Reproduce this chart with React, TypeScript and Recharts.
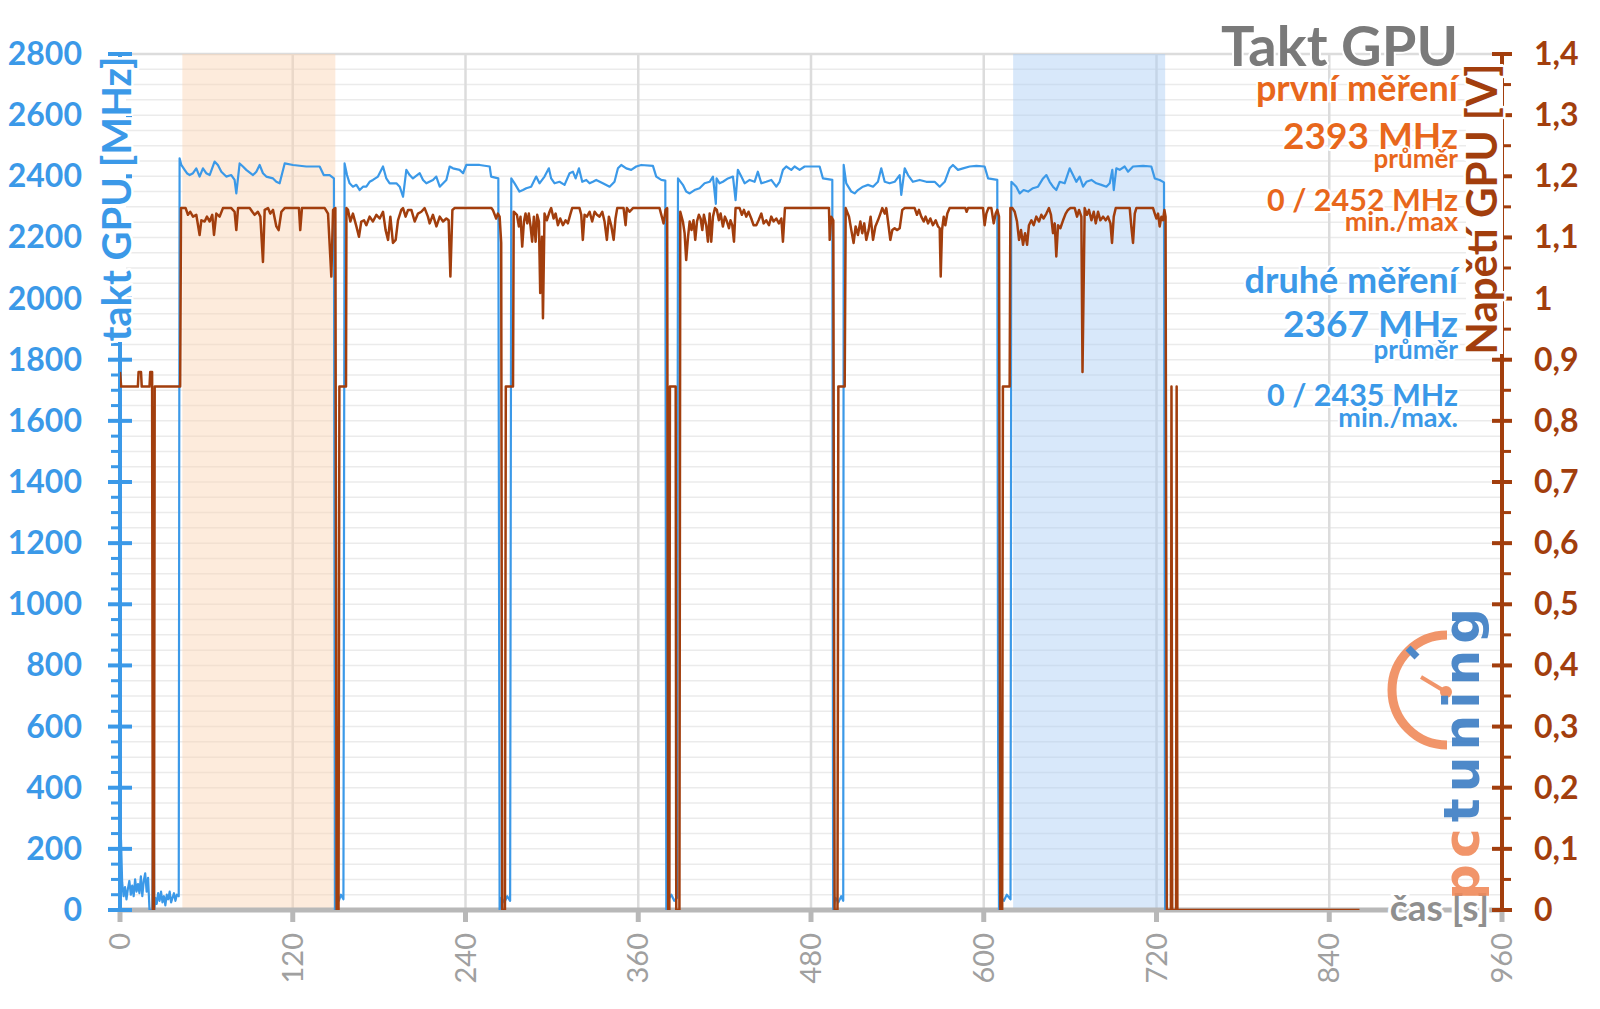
import React from 'react';
import { LineChart, Line, XAxis, YAxis, CartesianGrid, ReferenceArea } from 'recharts';

const BLUE = '#3b99e8';
const BROWN = '#a23e0d';
const ORANGE = '#e8671c';
const AXIS_GRAY = '#b8b8b8';
const LABEL_GRAY = '#a0a0a0';
const FONT = 'Lato, "Open Sans", sans-serif';

// ticks
const timeTicks = [0, 120, 240, 360, 480, 600, 720, 840, 960];
const timeGridTicks = [0, 15, 30, 45, 60, 75, 90, 105, 120, 135, 150, 165, 180, 195, 210, 225, 240, 255, 270, 285, 300, 315, 330, 345, 360, 375, 390, 405, 420, 435, 450, 465, 480, 495, 510, 525, 540, 555, 570, 585, 600, 615, 630, 645, 660, 675, 690, 705, 720, 735, 750, 765, 780, 795, 810, 825, 840, 855, 870, 885, 900, 915, 930, 945, 960];
const mhzTicks = [0, 50, 100, 150, 200, 250, 300, 350, 400, 450, 500, 550, 600, 650, 700, 750, 800, 850, 900, 950, 1000, 1050, 1100, 1150, 1200, 1250, 1300, 1350, 1400, 1450, 1500, 1550, 1600, 1650, 1700, 1750, 1800, 1850, 1900, 1950, 2000, 2050, 2100, 2150, 2200, 2250, 2300, 2350, 2400, 2450, 2500, 2550, 2600, 2650, 2700, 2750, 2800];
const mhzMajorTicks = [0, 200, 400, 600, 800, 1000, 1200, 1400, 1600, 1800, 2000, 2200, 2400, 2600, 2800];
const voltTicks = [0, 0.05, 0.1, 0.15, 0.2, 0.25, 0.3, 0.35, 0.4, 0.45, 0.5, 0.55, 0.6, 0.65, 0.7, 0.75, 0.8, 0.85, 0.9, 0.95, 1, 1.05, 1.1, 1.15, 1.2, 1.25, 1.3, 1.35, 1.4];

// shaded windows (s)
const firstWindow = [43.3, 149.6];
const secondWindow = [620.4, 726];

// GPU clock [s, MHz]
const clockIdle = [[0, 40], [0.7, 230], [1.5, 90], [2.5, 45], [3.5, 75], [4.5, 35], [5.5, 70], [6.5, 95], [7.5, 50], [8.5, 80], [9.5, 45], [10.5, 100], [11.5, 60], [12.5, 85], [13.5, 55], [14.5, 110], [15.5, 45], [16.5, 95], [17.5, 120], [18.5, 60], [19.5, 105], [20.5, 0], [22.5, 0], [23.3, 530], [23.8, 0], [24.5, 40], [25.5, 20], [26.5, 55], [27.5, 30], [28.5, 60], [29.5, 25], [30.5, 45], [31.5, 15], [32.5, 50], [33.5, 35], [34.5, 60], [35.5, 25], [36.5, 40], [37.5, 55], [38.5, 30], [39.5, 50], [40.8, 45]];
const clockRun1 = [[41.4, 2459], [42.6, 2437], [44.9, 2421], [46.5, 2410], [48.4, 2404], [50.7, 2410], [53.0, 2426], [55.3, 2399], [57.6, 2426], [59.9, 2410], [62.3, 2404], [65.7, 2448], [68.0, 2437], [70.4, 2415], [73.8, 2399], [77.3, 2404], [79.6, 2388], [80.8, 2344], [83.1, 2442], [85.4, 2432], [87.7, 2421], [92.4, 2404], [94.7, 2415], [97.0, 2437], [99.3, 2410], [101.6, 2399], [106.3, 2393], [108.6, 2382], [110.9, 2377], [114.4, 2442], [120.2, 2437], [129.4, 2432], [138.7, 2432], [141.5, 2404], [145.6, 2404], [148.6, 2393], [149.3, 0], [150.5, 45], [152, 30], [153.5, 50], [155.2, 35]];
const clockRun2 = [[156.0, 2442], [157.7, 2404], [159.5, 2377], [161.8, 2366], [164.2, 2372], [166.5, 2355], [168.8, 2366], [171.1, 2366], [173.4, 2382], [175.7, 2388], [179.2, 2399], [182.7, 2432], [185.0, 2393], [187.3, 2377], [192.0, 2377], [194.3, 2366], [196.6, 2333], [198.9, 2421], [201.2, 2404], [203.5, 2393], [208.2, 2410], [210.5, 2388], [212.8, 2377], [217.4, 2388], [219.7, 2399], [222.1, 2366], [226.7, 2388], [229.0, 2432], [231.3, 2426], [235.9, 2421], [238.3, 2410], [240.6, 2437], [249.8, 2437], [256.8, 2432], [257.8, 2399], [262.8, 2393], [263.7, 0], [265, 40], [267, 25], [269, 45], [271, 30]];
const clockRun3 = [[271.8, 2393], [274.1, 2377], [277.5, 2350], [279.9, 2355], [282.2, 2361], [285.6, 2366], [289.1, 2399], [291.4, 2377], [294.9, 2399], [297.9, 2426], [299.5, 2393], [301.9, 2377], [305.3, 2382], [308.8, 2372], [312.3, 2410], [314.6, 2415], [316.5, 2393], [318.8, 2426], [321.1, 2382], [323.9, 2388], [326.2, 2377], [328.5, 2382], [330.8, 2388], [335.4, 2377], [340.1, 2366], [343.5, 2382], [345.9, 2426], [348.2, 2437], [351.7, 2426], [355.1, 2421], [358.6, 2432], [362.1, 2437], [370.2, 2434], [372.5, 2399], [376.0, 2388], [378.8, 2386], [379.5, 0], [381, 35], [383, 50], [385, 30], [387, 40]];
const clockRun4 = [[387.6, 2393], [391.0, 2372], [393.3, 2350], [395.7, 2344], [399.1, 2355], [402.6, 2361], [406.1, 2377], [409.6, 2382], [411.9, 2399], [413.9, 2310], [414.4, 2393], [416.5, 2377], [418.8, 2382], [422.3, 2393], [425.8, 2399], [427.6, 2322], [429.2, 2421], [431.6, 2399], [433.9, 2377], [437.4, 2388], [440.8, 2382], [443.1, 2415], [445.5, 2377], [448.9, 2382], [452.4, 2388], [455.9, 2366], [458.2, 2382], [460.5, 2421], [462.8, 2432], [466.3, 2421], [468.6, 2432], [472.1, 2421], [475.6, 2432], [486.0, 2432], [488.3, 2393], [494.8, 2388], [495.4, 0], [497, 40], [499, 25], [501, 45], [502.4, 30]];
const clockRun5 = [[502.7, 2437], [504.5, 2377], [508.0, 2350], [510.3, 2344], [512.6, 2355], [516.1, 2366], [519.6, 2372], [523.1, 2366], [526.5, 2382], [528.8, 2426], [531.2, 2382], [534.6, 2377], [538.1, 2382], [541.6, 2404], [542.7, 2339], [545.1, 2426], [547.4, 2404], [550.8, 2382], [555.5, 2388], [560.1, 2382], [565.9, 2382], [569.4, 2366], [572.9, 2382], [576.3, 2426], [578.6, 2437], [582.1, 2421], [585.6, 2426], [590.2, 2432], [594.9, 2434], [600.6, 2432], [603.0, 2393], [609.4, 2388], [610.0, 500], [610.6, 0], [612, 40], [614, 30], [616, 50], [618.6, 35]];
const clockRun6 = [[619.2, 2382], [622.6, 2366], [625.0, 2344], [627.7, 2355], [630.8, 2350], [634.2, 2361], [637.7, 2366], [641.2, 2393], [643.5, 2404], [645.8, 2382], [648.1, 2366], [650.4, 2355], [652.8, 2382], [656.2, 2377], [659.7, 2426], [662.0, 2404], [664.3, 2382], [666.6, 2399], [669.0, 2366], [671.3, 2382], [674.8, 2388], [678.2, 2377], [681.7, 2372], [685.2, 2366], [687.5, 2377], [689.3, 2421], [690.3, 2355], [692.1, 2426], [694.4, 2421], [697.9, 2432], [700.2, 2415], [703.7, 2432], [710.7, 2434], [716.4, 2432], [718.8, 2393], [722.2, 2388], [725.2, 2380], [726.0, 0]];
const clockTail = [[728, 0], [860, 0]];

// GPU voltage [s, V]
const voltIdle = [[0, 0.88], [0.8, 0.856], [12.4, 0.856], [12.9, 0.88], [14.6, 0.88], [15.1, 0.856], [20.5, 0.856], [21, 0.88], [22.3, 0.88], [22.8, 0], [23.6, 0], [24.1, 0.856], [41.8, 0.856]];
const voltRun1 = [[42.4, 1.148], [45.6, 1.148], [47.2, 1.137], [48.8, 1.142], [50.7, 1.134], [53.0, 1.137], [55.3, 1.104], [56.5, 1.128], [58.8, 1.126], [60.4, 1.134], [62.3, 1.126], [64.1, 1.137], [65.3, 1.104], [66.9, 1.139], [69.2, 1.134], [71.5, 1.148], [77.3, 1.148], [79.6, 1.142], [80.8, 1.112], [82.0, 1.148], [90.1, 1.148], [91.9, 1.142], [93.5, 1.137], [95.8, 1.142], [97.5, 1.134], [99.3, 1.060], [100.5, 1.145], [102.8, 1.148], [104.4, 1.139], [106.3, 1.145], [108.6, 1.118], [110.2, 1.112], [112.1, 1.142], [114.4, 1.148], [124.3, 1.148], [125.2, 1.112], [126.4, 1.148], [142.2, 1.148], [144.5, 1.139], [146.8, 1.036], [148.0, 1.145], [149.6, 1.148], [150.5, 0], [151.8, 0], [152.4, 0.856], [157.0, 0.856]];
const voltRun2 = [[157.3, 1.148], [158.4, 1.145], [160.0, 1.126], [161.8, 1.139], [164.2, 1.118], [166.0, 1.101], [167.6, 1.126], [169.5, 1.128], [171.1, 1.120], [173.4, 1.134], [175.7, 1.126], [178.1, 1.137], [180.4, 1.131], [182.7, 1.142], [184.5, 1.112], [186.2, 1.096], [187.8, 1.134], [189.6, 1.091], [191.5, 1.096], [193.1, 1.128], [195.4, 1.145], [196.6, 1.148], [198.4, 1.134], [200.1, 1.145], [202.4, 1.145], [204.7, 1.126], [207.0, 1.139], [209.3, 1.142], [211.6, 1.148], [213.9, 1.134], [215.1, 1.123], [217.4, 1.137], [219.8, 1.118], [222.1, 1.134], [224.4, 1.126], [226.7, 1.131], [228.3, 1.128], [229.5, 1.036], [230.9, 1.145], [232.5, 1.148], [258.0, 1.148], [259.0, 1.145], [261.3, 1.131], [262.5, 1.139], [263.7, 1.134], [264.8, 1.091], [265.5, 0], [267.4, 0], [268.0, 0.856], [273.0, 0.856]];
const voltRun3 = [[273.5, 1.142], [275.7, 1.137], [277.1, 1.118], [278.2, 1.134], [279.4, 1.085], [280.6, 1.126], [281.7, 1.139], [282.9, 1.123], [284.0, 1.139], [285.2, 1.118], [286.3, 1.093], [287.5, 1.134], [288.7, 1.093], [289.8, 1.137], [291.0, 1.126], [291.9, 1.009], [293.1, 1.101], [293.8, 0.968], [294.9, 1.139], [296.5, 1.128], [298.4, 1.142], [299.5, 1.148], [301.2, 1.131], [302.6, 1.139], [304.2, 1.120], [305.8, 1.131], [307.7, 1.120], [309.5, 1.128], [311.1, 1.123], [312.7, 1.137], [314.1, 1.148], [319.2, 1.148], [320.4, 1.137], [321.5, 1.096], [322.7, 1.137], [324.3, 1.134], [326.2, 1.142], [328.0, 1.126], [329.7, 1.142], [331.3, 1.137], [333.1, 1.134], [335.0, 1.142], [336.6, 1.126], [338.2, 1.096], [339.6, 1.134], [341.2, 1.120], [342.9, 1.096], [344.2, 1.131], [345.4, 1.148], [349.8, 1.148], [351.2, 1.120], [352.1, 1.148], [354.0, 1.142], [356.3, 1.148], [374.8, 1.148], [376.7, 1.131], [377.6, 1.123], [379.0, 1.145], [380.1, 1.148], [380.8, 0], [381.6, 0], [382.0, 0.856], [386.0, 0.856], [386.4, 0], [388.6, 0]];
const voltRun4 = [[389.2, 1.142], [391.0, 1.126], [392.2, 1.107], [393.3, 1.063], [394.5, 1.099], [395.7, 1.126], [397.0, 1.112], [398.4, 1.128], [399.6, 1.096], [400.8, 1.126], [402.1, 1.137], [403.3, 1.131], [404.5, 1.112], [405.6, 1.137], [407.2, 1.120], [408.4, 1.093], [409.6, 1.139], [410.7, 1.093], [411.9, 1.134], [413.3, 1.148], [414.6, 1.145], [416.0, 1.128], [417.2, 1.139], [418.8, 1.118], [420.2, 1.134], [421.6, 1.126], [423.0, 1.115], [424.1, 1.128], [425.3, 1.120], [426.5, 1.093], [427.6, 1.148], [430.4, 1.148], [432.0, 1.137], [433.4, 1.145], [435.0, 1.134], [436.6, 1.142], [438.5, 1.131], [440.1, 1.120], [442.0, 1.120], [443.6, 1.128], [445.5, 1.139], [447.1, 1.123], [448.9, 1.128], [450.8, 1.120], [452.4, 1.134], [454.0, 1.126], [455.9, 1.131], [457.7, 1.123], [459.4, 1.131], [460.5, 1.093], [461.9, 1.148], [492.5, 1.148], [493.0, 1.096], [494.0, 1.134], [495.5, 1.128], [496.4, 0], [498.4, 0], [499.0, 0.856], [503.4, 0.856]];
const voltRun5 = [[504.1, 1.148], [506.4, 1.134], [508.0, 1.112], [509.6, 1.091], [511.0, 1.118], [512.6, 1.104], [514.3, 1.126], [515.6, 1.107], [517.0, 1.123], [518.4, 1.096], [520.0, 1.112], [521.4, 1.134], [523.1, 1.096], [524.7, 1.118], [526.5, 1.128], [528.2, 1.139], [529.5, 1.148], [531.2, 1.139], [532.3, 1.148], [533.5, 1.126], [535.1, 1.096], [536.5, 1.112], [538.1, 1.115], [539.7, 1.112], [541.6, 1.115], [543.4, 1.145], [545.1, 1.148], [552.0, 1.148], [553.6, 1.137], [555.0, 1.145], [556.6, 1.134], [558.3, 1.126], [559.6, 1.134], [561.3, 1.123], [562.9, 1.131], [564.7, 1.120], [566.6, 1.128], [568.2, 1.118], [569.4, 1.115], [570.1, 1.036], [571.0, 1.112], [572.2, 1.134], [573.3, 1.120], [574.7, 1.139], [576.3, 1.148], [587.2, 1.148], [588.1, 1.142], [589.1, 1.148], [599.5, 1.148], [600.6, 1.120], [601.8, 1.139], [603.2, 1.148], [605.3, 1.148], [606.9, 1.123], [608.3, 1.139], [609.4, 1.145], [610.6, 1.134], [611.5, 0], [612.8, 0], [613.3, 0.856], [618.0, 0.856]];
const voltRun6 = [[618.5, 1.148], [619.9, 1.148], [621.5, 1.142], [623.1, 1.126], [624.5, 1.096], [625.9, 1.112], [627.3, 1.088], [628.7, 1.107], [630.1, 1.088], [631.4, 1.120], [633.1, 1.128], [634.7, 1.120], [636.5, 1.134], [638.4, 1.126], [640.0, 1.137], [641.6, 1.131], [643.5, 1.139], [645.3, 1.148], [646.7, 1.137], [648.1, 1.107], [649.3, 1.123], [650.4, 1.069], [651.6, 1.120], [653.2, 1.115], [655.1, 1.128], [656.9, 1.139], [658.5, 1.145], [660.2, 1.148], [663.2, 1.148], [664.8, 1.134], [666.2, 1.145], [667.8, 1.134], [668.6, 0.88], [670.1, 1.148], [671.7, 1.137], [673.1, 1.145], [674.8, 1.128], [676.4, 1.142], [677.8, 1.123], [679.4, 1.142], [681.0, 1.128], [682.9, 1.134], [684.7, 1.128], [686.3, 1.134], [688.0, 1.123], [689.1, 1.091], [690.3, 1.134], [691.7, 1.148], [701.4, 1.148], [702.5, 1.118], [703.7, 1.091], [704.9, 1.139], [706.0, 1.148], [717.6, 1.148], [718.8, 1.139], [719.9, 1.131], [721.1, 1.139], [722.2, 1.118], [723.4, 1.134], [724.5, 1.128], [725.5, 1.145], [726.3, 1.134], [727.2, 0]];
const voltTail = [[730.0, 0], [730.4, 0.856], [730.9, 0], [733.6, 0], [734.0, 0.856], [734.5, 0], [861, 0]];

const clockData = [...clockIdle, ...clockRun1, ...clockRun2, ...clockRun3, ...clockRun4, ...clockRun5, ...clockRun6, ...clockTail]
  .map(([t, mhz]) => ({ t, mhz }));
const voltData = [...voltIdle, ...voltRun1, ...voltRun2, ...voltRun3, ...voltRun4, ...voltRun5, ...voltRun6, ...voltTail]
  .map(([t, v]) => ({ t, v }));

const MhzTick = ({ x, y, payload }: any) => {
  const v = payload.value;
  if (v % 200 !== 0) {
    return <line x1={x - 9} x2={x - 1} y1={y} y2={y} stroke={BLUE} strokeWidth={3} />;
  }
  return (
    <g>
      <line x1={x - 12} x2={x + 12} y1={y} y2={y} stroke={BLUE} strokeWidth={4} />
      <text x={x - 38} y={y} dy={11} textAnchor="end" fill={BLUE} fontSize={32} fontWeight={700} fontFamily={FONT}>{v}</text>
    </g>
  );
};

const VoltTick = ({ x, y, payload }: any) => {
  const v = payload.value;
  const hundredths = Math.round(v * 100);
  if (hundredths % 10 !== 0) {
    return <line x1={x + 1} x2={x + 9} y1={y} y2={y} stroke={BROWN} strokeWidth={3} />;
  }
  const label = String(hundredths / 100).replace('.', ',');
  return (
    <g>
      <line x1={x - 10} x2={x + 10} y1={y} y2={y} stroke={BROWN} strokeWidth={4} />
      <text x={x + 32} y={y} dy={11} textAnchor="start" fill={BROWN} fontSize={32} fontWeight={700} fontFamily={FONT}>{label}</text>
    </g>
  );
};

const TimeTick = ({ x, y, payload }: any) => {
  const ty = y + 23;
  return (
    <g>
      <line x1={x} x2={x} y1={y} y2={y + 12} stroke={AXIS_GRAY} strokeWidth={5} />
      <text x={x} y={ty} dy={10} transform={`rotate(-90 ${x} ${ty})`} textAnchor="end" fill={LABEL_GRAY} fontSize={29} fontFamily={FONT}>{payload.value}</text>
    </g>
  );
};

const halo = { stroke: '#fff', strokeWidth: 5, paintOrder: 'stroke' as const, strokeLinejoin: 'round' as const };

export default function App() {
  return (
    <div style={{ position: 'absolute', left: 0, top: 0, width: 1600, height: 1009, background: '#fff' }}>
      <LineChart width={1600} height={1009} margin={{ top: 54, right: 0, bottom: 0, left: 0 }}>
        <XAxis xAxisId="time" type="number" dataKey="t" domain={[0, 960]} allowDataOverflow ticks={timeTicks} interval={0}
          height={99} tickSize={0} tickMargin={0} axisLine={{ stroke: AXIS_GRAY, strokeWidth: 5 }} tickLine={false} tick={TimeTick} />
        <XAxis xAxisId="grid" type="number" domain={[0, 960]} allowDataOverflow ticks={timeGridTicks} interval={0}
          height={0} axisLine={false} tickLine={false} tick={false} />
        <YAxis yAxisId="mhzMajor" type="number" domain={[0, 2800]} allowDataOverflow ticks={mhzMajorTicks} interval={0}
          width={0} axisLine={false} tickLine={false} tick={false} />
        <YAxis yAxisId="mhz" type="number" domain={[0, 2800]} allowDataOverflow ticks={mhzTicks} interval={0}
          width={120} tickSize={0} tickMargin={0} axisLine={{ stroke: BLUE, strokeWidth: 4 }} tickLine={false} tick={MhzTick} />
        <YAxis yAxisId="volt" orientation="right" type="number" domain={[0, 1.4]} allowDataOverflow ticks={voltTicks} interval={0}
          width={98} tickSize={0} tickMargin={0} axisLine={{ stroke: BROWN, strokeWidth: 4 }} tickLine={false} tick={VoltTick} />

        <CartesianGrid xAxisId="grid" yAxisId="mhz" stroke="#ebebeb" strokeWidth={1.5} />
        <CartesianGrid xAxisId="time" yAxisId="mhzMajor" stroke="#dcdcdc" strokeWidth={2.5} />

        <ReferenceArea xAxisId="time" yAxisId="mhz" x1={firstWindow[0]} x2={firstWindow[1]} y1={0} y2={2800}
          fill="#fbd3b2" fillOpacity={0.45} stroke="none" />
        <ReferenceArea xAxisId="time" yAxisId="mhz" x1={secondWindow[0]} x2={secondWindow[1]} y1={0} y2={2800}
          fill="#a9cdf5" fillOpacity={0.45} stroke="none" />

        <Line xAxisId="time" yAxisId="mhz" data={clockData} dataKey="mhz" type="linear" stroke={BLUE} strokeWidth={2.2}
          dot={false} activeDot={false} isAnimationActive={false} strokeLinejoin="round" zIndex={600} />
        <Line xAxisId="time" yAxisId="volt" data={voltData} dataKey="v" type="linear" stroke={BROWN} strokeWidth={2.5}
          dot={false} activeDot={false} isAnimationActive={false} strokeLinejoin="round" zIndex={610} />
      </LineChart>

      <svg width={1600} height={1009} style={{ position: 'absolute', left: 0, top: 0, pointerEvents: 'none' }} fontFamily={FONT}>
        {/* axis titles, set on a white band over the axis line */}
        <rect x={101} y={57} width={25} height={285} fill="#fff" />
        <text x={131} y={199} transform="rotate(-90 131 199)" textAnchor="middle" fontSize={40} fontWeight={700} fill={BLUE} {...halo}>takt GPU [MHz]</text>
        <rect x={1466} y={64} width={37} height={290} fill="#fff" />
        <text x={1497} y={209} transform="rotate(-90 1497 209)" textAnchor="middle" fontSize={42} fontWeight={700} fill={BROWN} {...halo}>Napětí GPU [V]</text>
        <text x={1489} y={921} textAnchor="end" fontSize={37} fontWeight={700} fill="#8f8f8f" {...halo} strokeWidth={6}>čas [s]</text>

        {/* title + legend */}
        <g textAnchor="end" fontWeight={700} {...halo} strokeWidth={4}>
          <text x={1458} y={66} fontSize={56} fill="#7a7a7a">Takt GPU</text>
          <text x={1458} y={101} fontSize={36} fill={ORANGE}>první měření</text>
          <text x={1458} y={149} fontSize={37} fill={ORANGE}>2393 MHz</text>
          <text x={1458} y={168} fontSize={26} fill={ORANGE}>průměr</text>
          <text x={1458} y={211} fontSize={30.5} fill={ORANGE}>0 / 2452 MHz</text>
          <text x={1458} y={231} fontSize={27} fill={ORANGE}>min./max</text>
          <text x={1458} y={293} fontSize={36} fill={BLUE}>druhé měření</text>
          <text x={1458} y={337} fontSize={37} fill={BLUE}>2367 MHz</text>
          <text x={1458} y={359} fontSize={26} fill={BLUE}>průměr</text>
          <text x={1458} y={406} fontSize={30.5} fill={BLUE}>0 / 2435 MHz</text>
          <text x={1458} y={427} fontSize={27} fill={BLUE}>min./max.</text>
        </g>

        {/* pctuning logo */}
        <g opacity={0.9}>
          <path d="M 1447 635 A 55 55 0 0 0 1447 745" fill="none" stroke="#f08a5a" strokeWidth={9} />
          <line x1={1408} y1={648} x2={1417} y2={657} stroke="#3b7dc4" strokeWidth={7} />
          <line x1={1446} y1={692} x2={1421} y2={677} stroke="#f08a5a" strokeWidth={4} />
          <circle cx={1446} cy={692} r={6} fill="#f08a5a" />
          <text x={1479} y={900} transform="rotate(-90 1479 900)" fontFamily="DejaVu Sans" fontWeight={700} fontSize={50}
            textLength={292} lengthAdjust="spacing">
            <tspan fill="#f08a5a">pc</tspan><tspan fill="#3b7dc4">tuning</tspan>
          </text>
        </g>
      </svg>
    </div>
  );
}
